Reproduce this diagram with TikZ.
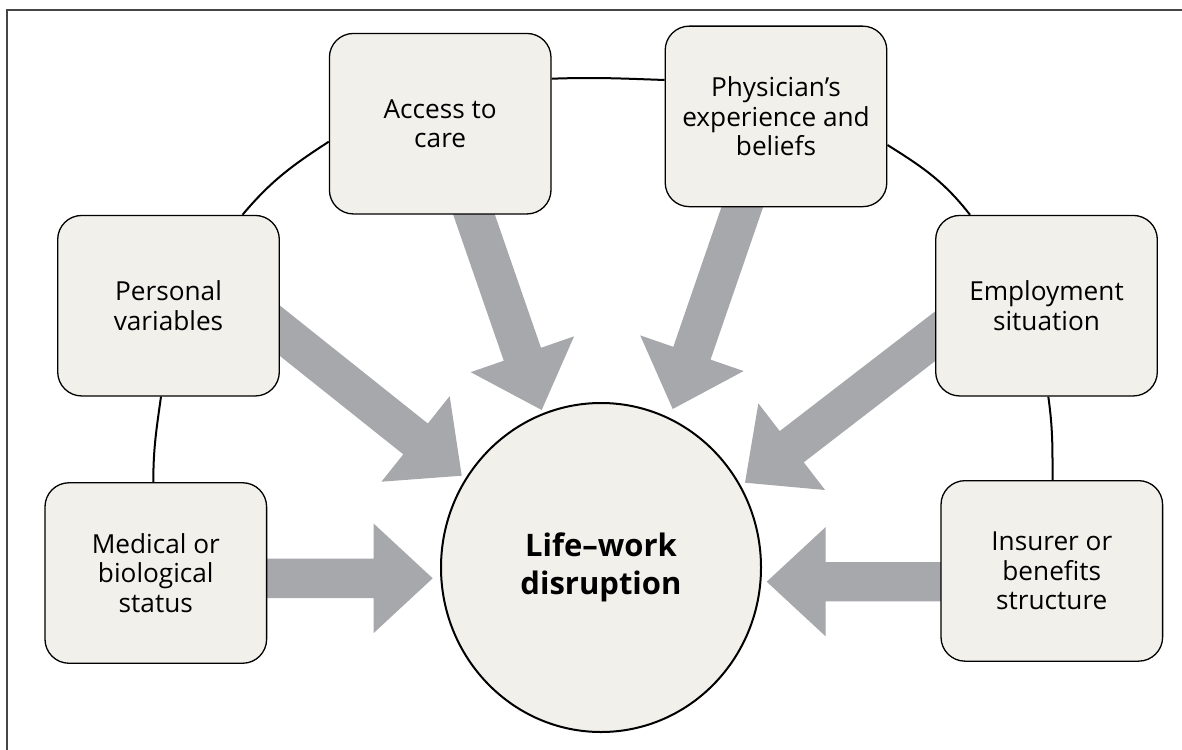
\documentclass[tikz,border=0pt]{standalone}
\usepackage{fontspec}
\setmainfont{Open Sans}
\usetikzlibrary{calc,shapes.geometric,backgrounds}
\definecolor{boxfill}{RGB}{241,240,234}
\definecolor{arrgray}{RGB}{167,168,172}
\definecolor{framegray}{RGB}{70,70,70}
\tikzset{
  factor/.style={draw=black, line width=1.3pt, fill=boxfill, rounded corners=24pt,
    minimum width=221.6pt, minimum height=180.5pt, inner sep=0pt, align=center,
    font=\fontsize{26.2}{29.3}\selectfont},
  hub/.style={ellipse, draw=black, line width=2pt, fill=boxfill,
    minimum width=320pt, minimum height=329pt, inner sep=0pt, align=center,
    font=\bfseries\fontsize{31}{37.7}\selectfont},
  ring/.style={line width=2pt, draw=black},
  arr/.style={fill=arrgray},
  frameline/.style={draw=framegray, line width=1.7pt}
}
% #1 start coordinate name, #2 tip coordinate name
\newcommand\bigarrow[2]{%
  \path ($(#2)!59pt!(#1)$) coordinate (hb) ($(#1)!-30pt!(#2)$) coordinate (s0);
  \fill[arr] ($(s0)!19.7pt!90:(#2)$) -- ($(hb)!19.7pt!90:(#2)$) -- ($(hb)!54.7pt!90:(#2)$)
    -- (#2) -- ($(hb)!54.7pt!-90:(#2)$) -- ($(hb)!19.7pt!-90:(#2)$) -- ($(s0)!19.7pt!-90:(#2)$) -- cycle;
}
\begin{document}
\begin{tikzpicture}[x=1pt,y=-1pt]
\useasboundingbox (0,0) rectangle (1182,749);
\begin{scope}
\clip (0,0) rectangle (1182,749);
\draw[frameline] (6.7,770) -- (6.7,10) -- (1200,10);
\end{scope}

% factor boxes
\node[factor] (acc)  at (440.2,123.7) {Access to\\care};
\node[factor] (phy)  at (776.0,116.4) {Physician’s\\experience and\\beliefs};
\node[factor] (pers) at (168.5,305.7) {Personal\\variables};
\node[factor] (emp)  at (1046.5,305.7) {Employment\\situation};
\node[factor] (med)  at (155.8,573.0) {Medical or\\biological\\status};
\node[factor] (ins)  at (1051.8,570.9) {Insurer or\\benefits\\structure};

% central node
\node[hub] (life) at (601,567.5) {Life–work\\disruption};

% arrow tips and starts
\coordinate (tMed) at (432.7,578.3);
\coordinate (tIns) at (766.7,581.7);
\coordinate (tPers) at (461.7,475.7);
\coordinate (tAcc) at (541.7,410);
\coordinate (tPhy) at (672.7,409);
\coordinate (tEmp) at (745,482.7);
\coordinate (sMed) at (med.east |- tMed);
\coordinate (sIns) at (ins.west |- tIns);
\coordinate (sPers) at ($(pers.east)+(0,25.1)$);
\coordinate (sAcc) at ($(acc.south)+(33.8,0)$);
\coordinate (sPhy) at ($(phy.south)+(-33.8,0)$);
\coordinate (sEmp) at ($(emp.west)+(0,30.6)$);

\begin{scope}[on background layer]
  % ring connecting the factors
  \draw[ring] ($(med.north)+(-2.5,0)$) to[out=90,in=-98] ($(pers.south)+(-7.5,0)$);
  \draw[ring] ($(pers.north)+(74,0)$) to[out=50,in=213] ($(acc.west)+(0,18)$);
  \draw[ring] ($(acc.east)+(0,-45)$) to[out=2,in=178] ($(phy.west)+(0,-36.4)$);
  \draw[ring] ($(phy.east)+(0,28.6)$) to[out=-32,in=128] ($(emp.north)+(-76.5,0)$);
  \draw[ring] ($(emp.south)+(1.8,0)$) to[out=-82,in=90] ($(ins.north)+(0.7,0)$);
  % influence arrows
  \bigarrow{sMed}{tMed}
  \bigarrow{sIns}{tIns}
  \bigarrow{sPers}{tPers}
  \bigarrow{sAcc}{tAcc}
  \bigarrow{sPhy}{tPhy}
  \bigarrow{sEmp}{tEmp}
\end{scope}
\end{tikzpicture}
\end{document}
